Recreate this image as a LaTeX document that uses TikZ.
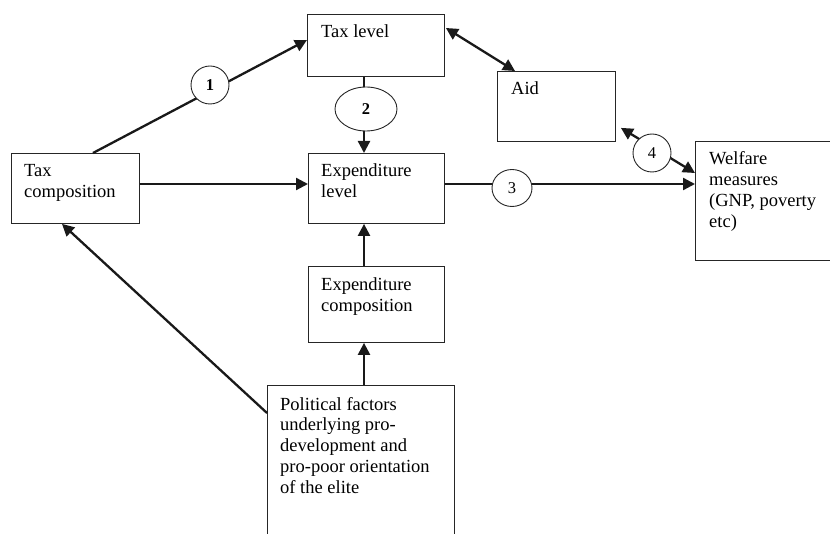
\documentclass[tikz,border=0pt]{standalone}
\usepackage{fontspec}
\setmainfont{Liberation Serif}
\usetikzlibrary{arrows.meta,shapes.geometric,calc}
\begin{document}
\begin{tikzpicture}[x=1pt,y=-1pt,
  box/.style={draw=black!85, line width=0.9pt, inner sep=0pt, anchor=north west},
  txt/.style={inner sep=0pt, anchor=base west, font=\fontsize{18.5}{20.8}\selectfont},
  num/.style={draw=black!85, ellipse, line width=0.9pt, fill=white, inner sep=0pt, font=\fontsize{16.5}{16.5}\selectfont},
  arr/.style={draw=black!90, line width=2.3pt, -{Triangle[length=12pt,width=12pt]}},
  darr/.style={draw=black!90, line width=2.3pt, {Triangle[length=12pt,width=12pt]}-{Triangle[length=12pt,width=12pt]}}]
\useasboundingbox (0,0) rectangle (830,534);
\clip (0,0) rectangle (830,534);
% boxes
\node[box, minimum width=137pt, minimum height=62pt] (taxlevel) at (307,14) {};
\node[box, minimum width=136pt, minimum height=70pt] (explevel) at (308,153) {};
\node[box, minimum width=118pt, minimum height=70pt] (aid) at (497,71) {};
\node[box, minimum width=150pt, minimum height=119pt] (welfare) at (695,141) {};
\node[box, minimum width=128pt, minimum height=70pt] (taxcomp) at (11,153) {};
\node[box, minimum width=136pt, minimum height=76pt] (expcomp) at (308,266) {};
\node[box, minimum width=187pt, minimum height=170pt] (political) at (267,385) {};
% texts
\node[txt] (taxlevel-t) at ($(taxlevel.north west)+(14,24)$) {\parbox[t]{120pt}{\raggedright Tax level}};
\node[txt] (explevel-t) at ($(explevel.north west)+(13,24)$) {\parbox[t]{120pt}{\raggedright Expenditure\\level}};
\node[txt] (aid-t) at ($(aid.north west)+(14,24)$) {\parbox[t]{100pt}{\raggedright Aid}};
\node[txt] (welfare-t) at ($(welfare.north west)+(14,24)$) {\parbox[t]{130pt}{\raggedright Welfare\\measures\\(GNP, poverty\\etc)}};
\node[txt] (taxcomp-t) at ($(taxcomp.north west)+(13,24)$) {\parbox[t]{120pt}{\raggedright Tax\\composition}};
\node[txt] (expcomp-t) at ($(expcomp.north west)+(13,25)$) {\parbox[t]{120pt}{\raggedright Expenditure\\composition}};
\node[txt] (political-t) at ($(political.north west)+(13,25)$) {\parbox[t]{180pt}{\raggedright Political factors\\underlying pro-\\development and\\pro-poor orientation\\of the elite}};
% connectors
\draw[arr] ($(taxcomp.north west)+(82,0)$) -- ($(taxlevel.north west)+(0,26)$);
\draw[arr] ($(taxlevel.south west)+(57,0)$) -- ($(explevel.north west)+(56,0)$);
\draw[arr] ($(taxcomp.north east)+(0,31)$) -- ($(explevel.north west)+(0,31)$);
\draw[arr] ($(explevel.north east)+(0,31)$) -- ($(welfare.north west)+(0,43)$);
\draw[darr] ($(taxlevel.north east)+(1,14)$) -- ($(aid.north west)+(18,0)$);
\draw[darr] ($(aid.south east)+(5,-14)$) -- ($(welfare.north west)+(0,32)$);
\draw[arr] ($(expcomp.north west)+(56,0)$) -- ($(explevel.south west)+(56,0)$);
\draw[arr] ($(political.north west)+(97,0)$) -- ($(expcomp.south west)+(56,0)$);
\draw[arr] ($(political.north west)+(0,28)$) -- ($(taxcomp.south west)+(51,0)$);
% numbered markers
\node[num, minimum width=38pt, minimum height=38pt] (n1) at (210,85) {\textbf{1}};
\node[num, minimum width=62pt, minimum height=44pt] (n2) at (366,109) {\textbf{2}};
\node[num, minimum width=40pt, minimum height=37pt] (n3) at (512,188) {3};
\node[num, minimum width=38pt, minimum height=38pt] (n4) at (652,153) {4};
\end{tikzpicture}
\end{document}
